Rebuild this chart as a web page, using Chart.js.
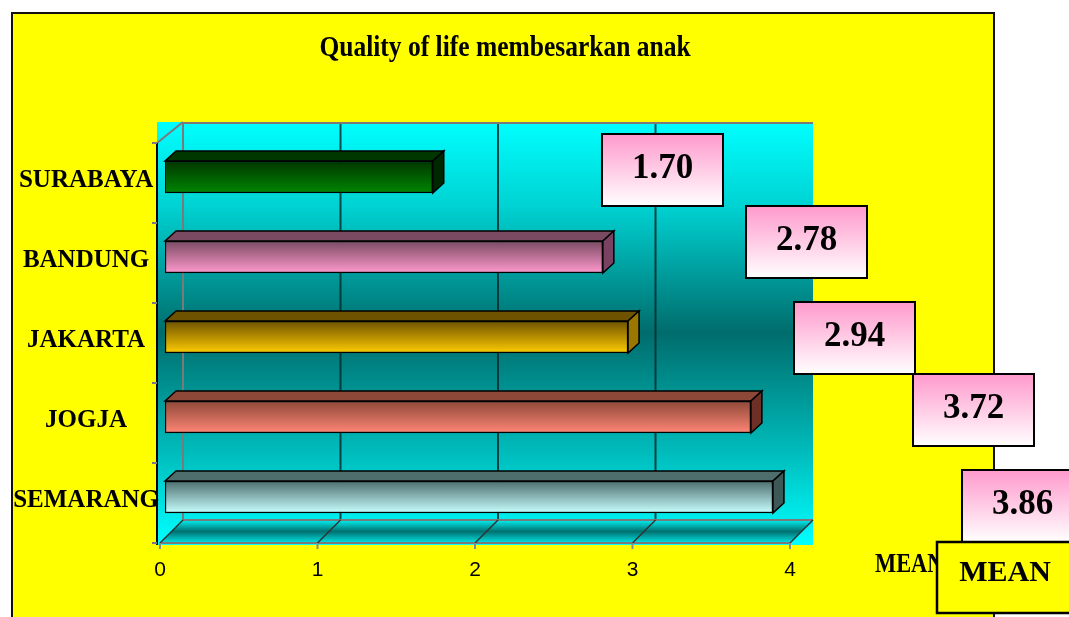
<!DOCTYPE html>
<html>
<head>
<meta charset="utf-8">
<script src="https://cdn.jsdelivr.net/npm/chart.js@4.4.0/dist/chart.umd.min.js"></script>
<style>
  html, body { margin: 0; padding: 0; background: #fff; }
  #wrap { width: 1069px; height: 617px; }
</style>
</head>
<body>
<div id="wrap"><canvas id="chart" width="1069" height="617"></canvas></div>
<script>
// data
const cities = ['SURABAYA', 'BANDUNG', 'JAKARTA', 'JOGJA', 'SEMARANG'];
const meanValues = [1.70, 2.78, 2.94, 3.72, 3.86];
const xTicks = [0, 1, 2, 3, 4];
const seriesName = 'MEAN';
const chartTitle = 'Quality of life membesarkan anak';

// bar colours (front gradient top/bottom, side face)
const barTop = ['#003600', '#7a4a62', '#6e5200', '#8e4838', '#4e6e6e'];
const barBottom = ['#008600', '#ff9acc', '#ffcc00', '#ff8676', '#c8ffff'];
const barSide = ['#002800', '#7a4262', '#9a7800', '#6e3026', '#3e5858'];

// where the value boxes were dragged to (top-left corner, px)
const labelBoxes = [[602, 134], [746, 206], [794, 302], [913, 374], [962, 470]];

const SHIFT = 5;      // bars sit a bit behind the front plane
const WALL_DX = 23;   // depth of back wall
const WALL_DY = 21;
const BAR_DX = 11;
const BAR_DY = 10;
const serif = "'Liberation Serif', 'Times New Roman', serif";

function pageAndWalls(chart) {
    const ctx = chart.ctx;
    const { left, right, top, bottom } = chart.chartArea;
    const xs = chart.scales.x;
    ctx.save();
    ctx.fillStyle = '#fff';
    ctx.fillRect(0, 0, chart.width, chart.height);

    // yellow frame
    ctx.fillStyle = '#ffff00';
    ctx.fillRect(12, 13, 983, 620);
    ctx.strokeStyle = '#111';
    ctx.lineWidth = 2;
    ctx.beginPath();
    ctx.moveTo(12, 640); ctx.lineTo(12, 13); ctx.lineTo(994, 13); ctx.lineTo(994, 640);
    ctx.stroke();

    // title, condensed
    ctx.save();
    ctx.translate(505, 56);
    ctx.scale(0.85, 1);
    ctx.fillStyle = '#000';
    ctx.font = 'bold 30px ' + serif;
    ctx.textAlign = 'center';
    ctx.textBaseline = 'alphabetic';
    ctx.fillText(chartTitle, 0, 0);
    ctx.restore();

    const frontLeft = xs.getPixelForValue(0) - SHIFT;
    const frontRight = xs.getPixelForValue(4) - SHIFT;
    const frontTop = top + 6;
    const frontBottom = bottom + 6;
    const backTop = frontTop - WALL_DY;
    const backBottom = frontBottom - WALL_DY - 2;

    // cyan walls
    let g = ctx.createLinearGradient(0, backTop, 0, frontBottom);
    g.addColorStop(0, '#00ffff');
    g.addColorStop(0.2, '#00d2d2');
    g.addColorStop(0.5, '#006c6c');
    g.addColorStop(0.8, '#00c0c0');
    g.addColorStop(1, '#00ffff');
    ctx.fillStyle = g;
    ctx.fillRect(frontLeft - 3, backTop, frontRight + WALL_DX - frontLeft + 3, frontBottom + 2 - backTop);

    // floor
    g = ctx.createLinearGradient(0, backBottom, 0, frontBottom);
    g.addColorStop(0, '#00f0f0');
    g.addColorStop(0.5, '#007070');
    g.addColorStop(1, '#00e4e4');
    ctx.fillStyle = g;
    ctx.beginPath();
    ctx.moveTo(frontLeft, frontBottom);
    ctx.lineTo(frontLeft + WALL_DX, backBottom);
    ctx.lineTo(frontRight + WALL_DX, backBottom);
    ctx.lineTo(frontRight, frontBottom);
    ctx.closePath();
    ctx.fill();

    // back wall grid lines
    xTicks.forEach(v => {
        if (v === 4) return;
        const x = xs.getPixelForValue(v) - SHIFT + WALL_DX;
        ctx.strokeStyle = v === 0 ? '#7a7a7a' : 'rgba(0,45,45,0.85)';
        ctx.lineWidth = 2;
        ctx.beginPath();
        ctx.moveTo(x, backTop);
        ctx.lineTo(x, backBottom);
        ctx.stroke();
    });
    ctx.strokeStyle = '#7a7a7a';
    ctx.lineWidth = 2;
    ctx.beginPath();
    ctx.moveTo(frontLeft + WALL_DX, backTop + 1);
    ctx.lineTo(frontRight + WALL_DX, backTop + 1);
    ctx.moveTo(frontLeft - 3, frontTop);
    ctx.lineTo(frontLeft + WALL_DX, backTop);
    ctx.moveTo(frontLeft + WALL_DX, backBottom);
    ctx.lineTo(frontRight + WALL_DX, backBottom);
    ctx.moveTo(frontLeft, frontBottom);
    ctx.lineTo(frontRight, frontBottom);
    ctx.stroke();

    // floor diagonals and x tick marks
    xTicks.forEach(v => {
        const x = xs.getPixelForValue(v) - SHIFT;
        ctx.strokeStyle = '#303030';
        ctx.lineWidth = 1.5;
        ctx.beginPath();
        ctx.moveTo(x, frontBottom);
        ctx.lineTo(x + WALL_DX, backBottom);
        ctx.stroke();
        ctx.strokeStyle = '#8a8a8a';
        ctx.lineWidth = 2;
        ctx.beginPath();
        ctx.moveTo(x, frontBottom);
        ctx.lineTo(x, frontBottom + 6);
        ctx.stroke();
    });

    // front left edge and y tick marks
    ctx.strokeStyle = '#000';
    ctx.lineWidth = 2;
    ctx.beginPath();
    ctx.moveTo(frontLeft - 3, frontTop);
    ctx.lineTo(frontLeft - 3, frontBottom + 2);
    ctx.stroke();
    ctx.strokeStyle = '#7a7a7a';
    const band = (bottom - top) / cities.length;
    for (let i = 0; i <= cities.length; i++) {
        const y = frontTop + band * i;
        ctx.beginPath();
        ctx.moveTo(frontLeft - 8, y);
        ctx.lineTo(frontLeft - 3, y);
        ctx.stroke();
    }
    ctx.restore();
}

function barFaces(chart) {
    const ctx = chart.ctx;
    const meta = chart.getDatasetMeta(0);
    ctx.save();
    ctx.lineWidth = 1.5;
    ctx.strokeStyle = '#000';
    meta.data.forEach((bar, i) => {
        const p = bar.getProps(['x', 'y', 'base', 'height'], true);
        const t = p.y - p.height / 2;
        const b = p.y + p.height / 2;
        // top face
        ctx.fillStyle = barTop[i];
        ctx.beginPath();
        ctx.moveTo(p.base, t);
        ctx.lineTo(p.base + BAR_DX, t - BAR_DY);
        ctx.lineTo(p.x + BAR_DX, t - BAR_DY);
        ctx.lineTo(p.x, t);
        ctx.closePath();
        ctx.fill();
        ctx.stroke();
        // side face
        ctx.fillStyle = barSide[i];
        ctx.beginPath();
        ctx.moveTo(p.x, t);
        ctx.lineTo(p.x + BAR_DX, t - BAR_DY);
        ctx.lineTo(p.x + BAR_DX, b - BAR_DY);
        ctx.lineTo(p.x, b);
        ctx.closePath();
        ctx.fill();
        ctx.stroke();
    });
    ctx.restore();
}

function labelsAndLegend(chart) {
    const ctx = chart.ctx;
    ctx.save();
    // axis title, partly hidden behind the legend
    ctx.fillStyle = '#000';
    ctx.font = 'bold 28px ' + serif;
    ctx.textAlign = 'left';
    ctx.textBaseline = 'alphabetic';
    ctx.save();
    ctx.translate(875, 572);
    ctx.scale(0.8, 1);
    ctx.fillText(seriesName, 0, 0);
    ctx.restore();

    // value boxes
    meanValues.forEach((v, i) => {
        const [bx, by] = labelBoxes[i];
        const w = 121, h = 72;
        const g = ctx.createLinearGradient(0, by, 0, by + h);
        g.addColorStop(0, '#ff99cc');
        g.addColorStop(1, '#ffffff');
        ctx.fillStyle = g;
        ctx.fillRect(bx, by, w, h);
        ctx.strokeStyle = '#000';
        ctx.lineWidth = 2;
        ctx.strokeRect(bx, by, w, h);
        ctx.fillStyle = '#000';
        ctx.font = 'bold 35px ' + serif;
        ctx.textAlign = 'center';
        ctx.textBaseline = 'middle';
        ctx.fillText(v.toFixed(2), bx + w / 2, by + h / 2 - 1);
    });

    // legend box
    ctx.fillStyle = '#ffff00';
    ctx.fillRect(937, 542, 140, 71);
    ctx.strokeStyle = '#000';
    ctx.lineWidth = 2.5;
    ctx.strokeRect(937, 542, 140, 71);
    ctx.fillStyle = '#000';
    ctx.font = 'bold 30px ' + serif;
    ctx.textAlign = 'center';
    ctx.textBaseline = 'middle';
    ctx.fillText(seriesName, 1005, 573);
    ctx.restore();
}

const frame3d = {
    id: 'frame3d',
    beforeDraw: pageAndWalls,
    afterDatasetsDraw: barFaces,
    afterDraw: labelsAndLegend
};

new Chart(document.getElementById('chart'), {
    type: 'bar',
    data: {
        labels: cities,
        datasets: [{
            label: seriesName,
            data: meanValues,
            borderColor: '#000',
            borderWidth: 1.5,
            borderSkipped: false,
            barThickness: 32,
            backgroundColor: c => {
                if (c.type !== 'data' || !c.chart.chartArea) return barBottom[0];
                const y = c.chart.scales.y.getPixelForValue(c.dataIndex);
                const g = c.chart.ctx.createLinearGradient(0, y - 16, 0, y + 16);
                g.addColorStop(0, barTop[c.dataIndex]);
                g.addColorStop(1, barBottom[c.dataIndex]);
                return g;
            }
        }]
    },
    options: {
        indexAxis: 'y',
        responsive: false,
        animation: false,
        devicePixelRatio: 1,
        layout: { padding: { left: 0, top: 137, right: 274, bottom: 0 } },
        plugins: {
            legend: { display: false },
            title: { display: false },
            tooltip: { enabled: false }
        },
        scales: {
            x: {
                min: 0,
                max: 4,
                grid: { display: false, drawTicks: false },
                border: { display: false },
                afterFit: s => { s.height = 80; },
                ticks: {
                    stepSize: 1,
                    labelOffset: -SHIFT,
                    padding: 21,
                    color: '#000',
                    font: { family: "'Liberation Sans', Arial, sans-serif", size: 21 }
                }
            },
            y: {
                grid: { display: false, drawTicks: false },
                border: { display: false },
                afterFit: s => { s.width = 165; },
                ticks: {
                    crossAlign: 'center',
                    padding: 6,
                    labelOffset: 4,
                    color: '#000',
                    font: { family: serif, size: 25, weight: 'bold' }
                }
            }
        }
    },
    plugins: [frame3d]
});
</script>
</body>
</html>
